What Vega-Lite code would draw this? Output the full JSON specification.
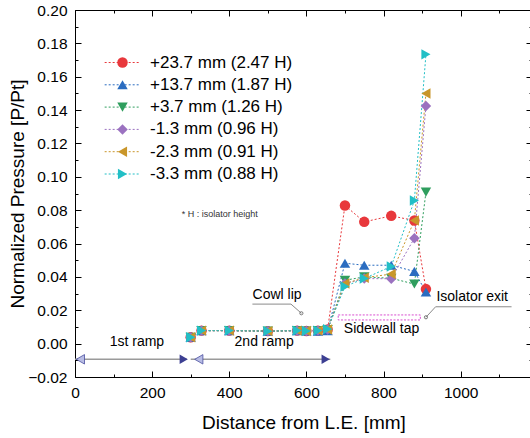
{
  "$schema": "https://vega.github.io/schema/vega-lite/v6.json",
  "width": 457,
  "height": 367,
  "autosize": {"type": "none"},
  "padding": {"left": 75, "top": 10, "right": 0, "bottom": 61},
  "background": "white",
  "config": {
    "view": {"stroke": null},
    "font": "Liberation Sans",
    "axis": {
      "domainColor": "black", "tickColor": "black", "labelColor": "black", "titleColor": "black",
      "labelFont": "Liberation Sans", "titleFont": "Liberation Sans",
      "labelFontSize": 15.5, "titleFontSize": 19, "titleFontWeight": "normal",
      "grid": false, "domainWidth": 1, "tickWidth": 1, "labelFlush": false, "labelOverlap": false
    },
    "text": {"font": "Liberation Sans"}
  },
  "datasets": {
    "series": [
      {"s": "+23.7 mm (2.47 H)", "x": 300, "y": 0.0038},
      {"s": "+23.7 mm (2.47 H)", "x": 328, "y": 0.0078},
      {"s": "+23.7 mm (2.47 H)", "x": 400, "y": 0.0078},
      {"s": "+23.7 mm (2.47 H)", "x": 500, "y": 0.0075},
      {"s": "+23.7 mm (2.47 H)", "x": 576, "y": 0.0078},
      {"s": "+23.7 mm (2.47 H)", "x": 600, "y": 0.0076},
      {"s": "+23.7 mm (2.47 H)", "x": 630, "y": 0.0078},
      {"s": "+23.7 mm (2.47 H)", "x": 655, "y": 0.0085},
      {"s": "+23.7 mm (2.47 H)", "x": 700, "y": 0.0828},
      {"s": "+23.7 mm (2.47 H)", "x": 750, "y": 0.073},
      {"s": "+23.7 mm (2.47 H)", "x": 820, "y": 0.0766},
      {"s": "+23.7 mm (2.47 H)", "x": 880, "y": 0.0738},
      {"s": "+23.7 mm (2.47 H)", "x": 910, "y": 0.0327},
      {"s": "+13.7 mm (1.87 H)", "x": 300, "y": 0.0038},
      {"s": "+13.7 mm (1.87 H)", "x": 328, "y": 0.0078},
      {"s": "+13.7 mm (1.87 H)", "x": 400, "y": 0.0078},
      {"s": "+13.7 mm (1.87 H)", "x": 500, "y": 0.0075},
      {"s": "+13.7 mm (1.87 H)", "x": 576, "y": 0.0078},
      {"s": "+13.7 mm (1.87 H)", "x": 600, "y": 0.0076},
      {"s": "+13.7 mm (1.87 H)", "x": 630, "y": 0.0075},
      {"s": "+13.7 mm (1.87 H)", "x": 655, "y": 0.0078},
      {"s": "+13.7 mm (1.87 H)", "x": 700, "y": 0.0482},
      {"s": "+13.7 mm (1.87 H)", "x": 750, "y": 0.047},
      {"s": "+13.7 mm (1.87 H)", "x": 820, "y": 0.047},
      {"s": "+13.7 mm (1.87 H)", "x": 880, "y": 0.0433},
      {"s": "+13.7 mm (1.87 H)", "x": 910, "y": 0.031},
      {"s": "+3.7 mm (1.26 H)", "x": 300, "y": 0.0038},
      {"s": "+3.7 mm (1.26 H)", "x": 328, "y": 0.0078},
      {"s": "+3.7 mm (1.26 H)", "x": 400, "y": 0.0078},
      {"s": "+3.7 mm (1.26 H)", "x": 500, "y": 0.0075},
      {"s": "+3.7 mm (1.26 H)", "x": 576, "y": 0.0078},
      {"s": "+3.7 mm (1.26 H)", "x": 600, "y": 0.0076},
      {"s": "+3.7 mm (1.26 H)", "x": 630, "y": 0.0078},
      {"s": "+3.7 mm (1.26 H)", "x": 655, "y": 0.0085},
      {"s": "+3.7 mm (1.26 H)", "x": 700, "y": 0.038},
      {"s": "+3.7 mm (1.26 H)", "x": 750, "y": 0.04},
      {"s": "+3.7 mm (1.26 H)", "x": 820, "y": 0.0392},
      {"s": "+3.7 mm (1.26 H)", "x": 880, "y": 0.0357},
      {"s": "+3.7 mm (1.26 H)", "x": 910, "y": 0.0908},
      {"s": "-1.3 mm (0.96 H)", "x": 300, "y": 0.0038},
      {"s": "-1.3 mm (0.96 H)", "x": 328, "y": 0.0078},
      {"s": "-1.3 mm (0.96 H)", "x": 400, "y": 0.0078},
      {"s": "-1.3 mm (0.96 H)", "x": 500, "y": 0.0075},
      {"s": "-1.3 mm (0.96 H)", "x": 576, "y": 0.0078},
      {"s": "-1.3 mm (0.96 H)", "x": 600, "y": 0.0076},
      {"s": "-1.3 mm (0.96 H)", "x": 630, "y": 0.0078},
      {"s": "-1.3 mm (0.96 H)", "x": 655, "y": 0.0085},
      {"s": "-1.3 mm (0.96 H)", "x": 700, "y": 0.036},
      {"s": "-1.3 mm (0.96 H)", "x": 750, "y": 0.039},
      {"s": "-1.3 mm (0.96 H)", "x": 820, "y": 0.0389},
      {"s": "-1.3 mm (0.96 H)", "x": 880, "y": 0.0632},
      {"s": "-1.3 mm (0.96 H)", "x": 910, "y": 0.1425},
      {"s": "-2.3 mm (0.91 H)", "x": 300, "y": 0.0038},
      {"s": "-2.3 mm (0.91 H)", "x": 328, "y": 0.0078},
      {"s": "-2.3 mm (0.91 H)", "x": 400, "y": 0.0078},
      {"s": "-2.3 mm (0.91 H)", "x": 500, "y": 0.0075},
      {"s": "-2.3 mm (0.91 H)", "x": 576, "y": 0.0078},
      {"s": "-2.3 mm (0.91 H)", "x": 600, "y": 0.0076},
      {"s": "-2.3 mm (0.91 H)", "x": 630, "y": 0.0078},
      {"s": "-2.3 mm (0.91 H)", "x": 655, "y": 0.0085},
      {"s": "-2.3 mm (0.91 H)", "x": 700, "y": 0.036},
      {"s": "-2.3 mm (0.91 H)", "x": 750, "y": 0.0395},
      {"s": "-2.3 mm (0.91 H)", "x": 820, "y": 0.0417},
      {"s": "-2.3 mm (0.91 H)", "x": 880, "y": 0.0738},
      {"s": "-2.3 mm (0.91 H)", "x": 910, "y": 0.15},
      {"s": "-3.3 mm (0.88 H)", "x": 300, "y": 0.0038},
      {"s": "-3.3 mm (0.88 H)", "x": 328, "y": 0.0078},
      {"s": "-3.3 mm (0.88 H)", "x": 400, "y": 0.0078},
      {"s": "-3.3 mm (0.88 H)", "x": 500, "y": 0.0075},
      {"s": "-3.3 mm (0.88 H)", "x": 576, "y": 0.0078},
      {"s": "-3.3 mm (0.88 H)", "x": 600, "y": 0.0076},
      {"s": "-3.3 mm (0.88 H)", "x": 630, "y": 0.0078},
      {"s": "-3.3 mm (0.88 H)", "x": 655, "y": 0.0087},
      {"s": "-3.3 mm (0.88 H)", "x": 700, "y": 0.0343},
      {"s": "-3.3 mm (0.88 H)", "x": 750, "y": 0.039},
      {"s": "-3.3 mm (0.88 H)", "x": 820, "y": 0.0463},
      {"s": "-3.3 mm (0.88 H)", "x": 880, "y": 0.0858},
      {"s": "-3.3 mm (0.88 H)", "x": 910, "y": 0.1734}
    ],
    "one": [{}]
  },
  "layer": [
    {
      "data": {"name": "one"},
      "mark": {"type": "rule", "color": "#9a9a9a", "strokeWidth": 1.5},
      "encoding": {
        "x": {"datum": 0, "type": "quantitative", "scale": {"domain": [0, 1185], "nice": false}, "axis": null},
        "x2": {"datum": 290},
        "y": {"datum": -0.0094, "type": "quantitative", "scale": {"domain": [-0.02, 0.2], "nice": false}, "axis": null}
      }
    },
    {
      "data": {"name": "one"},
      "mark": {"type": "rule", "color": "#9a9a9a", "strokeWidth": 1.5},
      "encoding": {
        "x": {"datum": 300, "type": "quantitative", "axis": null},
        "x2": {"datum": 662},
        "y": {"datum": -0.0094, "type": "quantitative", "axis": null}
      }
    },
    {
      "data": {"name": "one"},
      "mark": {"type": "point", "shape": "triangle-left", "filled": true, "fill": "#b8bce4", "stroke": "#4a4f9f", "strokeWidth": 0.8, "size": 90, "opacity": 1},
      "encoding": {
        "x": {"datum": 14, "type": "quantitative", "axis": null},
        "y": {"datum": -0.0094, "type": "quantitative", "axis": null}
      }
    },
    {
      "data": {"name": "one"},
      "mark": {"type": "point", "shape": "triangle-left", "filled": true, "fill": "#b8bce4", "stroke": "#4a4f9f", "strokeWidth": 0.8, "size": 90, "opacity": 1},
      "encoding": {
        "x": {"datum": 321, "type": "quantitative", "axis": null},
        "y": {"datum": -0.0094, "type": "quantitative", "axis": null}
      }
    },
    {
      "data": {"name": "one"},
      "mark": {"type": "point", "shape": "triangle-right", "filled": true, "fill": "#3c3f92", "size": 90, "opacity": 1},
      "encoding": {
        "x": {"datum": 282, "type": "quantitative", "axis": null},
        "y": {"datum": -0.0094, "type": "quantitative", "axis": null}
      }
    },
    {
      "data": {"name": "one"},
      "mark": {"type": "point", "shape": "triangle-right", "filled": true, "fill": "#3c3f92", "size": 90, "opacity": 1},
      "encoding": {
        "x": {"datum": 650, "type": "quantitative", "axis": null},
        "y": {"datum": -0.0094, "type": "quantitative", "axis": null}
      }
    },
    {
      "data": {"name": "one"},
      "mark": {"type": "text", "text": "1st ramp", "fontSize": 14, "color": "black", "align": "center", "baseline": "middle"},
      "encoding": {
        "x": {"datum": 160.5, "type": "quantitative", "axis": null},
        "y": {"datum": 0.0011, "type": "quantitative", "axis": null}
      }
    },
    {
      "data": {"name": "one"},
      "mark": {"type": "text", "text": "2nd ramp", "fontSize": 14, "color": "black", "align": "center", "baseline": "middle"},
      "encoding": {
        "x": {"datum": 490.5, "type": "quantitative", "axis": null},
        "y": {"datum": 0.0011, "type": "quantitative", "axis": null}
      }
    },
    {
      "data": {"name": "one"},
      "mark": {"type": "text", "text": "Cowl lip", "fontSize": 14, "color": "black", "align": "center", "baseline": "middle"},
      "encoding": {
        "x": {"datum": 524, "type": "quantitative", "axis": null},
        "y": {"datum": 0.0291, "type": "quantitative", "axis": null}
      }
    },
    {
      "data": {"name": "one"},
      "mark": {"type": "text", "text": "Isolator exit", "fontSize": 14, "color": "black", "align": "center", "baseline": "middle"},
      "encoding": {
        "x": {"datum": 1030, "type": "quantitative", "axis": null},
        "y": {"datum": 0.0281, "type": "quantitative", "axis": null}
      }
    },
    {
      "data": {"name": "one"},
      "mark": {"type": "text", "text": "Sidewall tap", "fontSize": 14, "color": "black", "align": "center", "baseline": "middle"},
      "encoding": {
        "x": {"datum": 795, "type": "quantitative", "axis": null},
        "y": {"datum": 0.0086, "type": "quantitative", "axis": null}
      }
    },
    {
      "data": {"name": "one"},
      "mark": {"type": "text", "text": "* H : isolator height", "fontSize": 9, "color": "#333333", "align": "left", "baseline": "middle"},
      "encoding": {
        "x": {"datum": 277, "type": "quantitative", "axis": null},
        "y": {"datum": 0.0777, "type": "quantitative", "axis": null}
      }
    },
    {
      "data": {"name": "one"},
      "mark": {"type": "rule", "color": "#8a8a8a", "strokeWidth": 1},
      "encoding": {
        "x": {"datum": 460, "type": "quantitative", "axis": null},
        "x2": {"datum": 560},
        "y": {"datum": 0.0237, "type": "quantitative", "axis": null},
        "y2": {"datum": 0.0237}
      }
    },
    {
      "data": {"name": "one"},
      "mark": {"type": "rule", "color": "#8a8a8a", "strokeWidth": 1},
      "encoding": {
        "x": {"datum": 560, "type": "quantitative", "axis": null},
        "x2": {"datum": 587},
        "y": {"datum": 0.0237, "type": "quantitative", "axis": null},
        "y2": {"datum": 0.0182}
      }
    },
    {
      "data": {"name": "one"},
      "mark": {"type": "point", "shape": "circle", "filled": false, "stroke": "#777777", "strokeWidth": 1, "size": 10, "opacity": 1},
      "encoding": {
        "x": {"datum": 587, "type": "quantitative", "axis": null},
        "y": {"datum": 0.0182, "type": "quantitative", "axis": null}
      }
    },
    {
      "data": {"name": "one"},
      "mark": {"type": "rule", "color": "#8a8a8a", "strokeWidth": 1},
      "encoding": {
        "x": {"datum": 935, "type": "quantitative", "axis": null},
        "x2": {"datum": 1132},
        "y": {"datum": 0.0221, "type": "quantitative", "axis": null},
        "y2": {"datum": 0.0221}
      }
    },
    {
      "data": {"name": "one"},
      "mark": {"type": "rule", "color": "#8a8a8a", "strokeWidth": 1},
      "encoding": {
        "x": {"datum": 935, "type": "quantitative", "axis": null},
        "x2": {"datum": 910},
        "y": {"datum": 0.0221, "type": "quantitative", "axis": null},
        "y2": {"datum": 0.0158}
      }
    },
    {
      "data": {"name": "one"},
      "mark": {"type": "point", "shape": "circle", "filled": false, "stroke": "#777777", "strokeWidth": 1, "size": 10, "opacity": 1},
      "encoding": {
        "x": {"datum": 910, "type": "quantitative", "axis": null},
        "y": {"datum": 0.0158, "type": "quantitative", "axis": null}
      }
    },
    {
      "data": {"name": "one"},
      "mark": {"type": "rect", "fill": null, "fillOpacity": 0, "stroke": "#d94fd0", "strokeWidth": 1, "strokeDash": [2, 1.5]},
      "encoding": {
        "x": {"datum": 682.5, "type": "quantitative", "axis": null},
        "x2": {"datum": 895.5},
        "y": {"datum": 0.0142, "type": "quantitative", "axis": null},
        "y2": {"datum": 0.0172}
      }
    },
    {
      "data": {"name": "series"},
      "mark": {"type": "line", "strokeWidth": 1, "strokeDash": [2, 2]},
      "encoding": {
        "x": {
          "field": "x", "type": "quantitative",
          "axis": {
            "orient": "top", "values": [0, 100, 200, 300, 400, 500, 600, 700, 800, 900, 1000, 1100],
            "labels": false, "title": null,
            "tickSize": {"condition": {"test": "datum.value % 200 == 0", "value": -6}, "value": -3}
          }
        },
        "y": {
          "field": "y", "type": "quantitative",
          "axis": {
            "orient": "right", "values": [-0.02, -0.01, 0, 0.01, 0.02, 0.03, 0.04, 0.05, 0.06, 0.07, 0.08, 0.09, 0.1, 0.11, 0.12, 0.13, 0.14, 0.15, 0.16, 0.17, 0.18, 0.19, 0.2],
            "labels": false, "title": null,
            "tickSize": {"condition": {"test": "abs(round(datum.value*100)) % 2 == 0", "value": -6}, "value": -3}
          }
        },
        "stroke": {
          "field": "s", "type": "nominal",
          "scale": {
            "domain": ["+23.7 mm (2.47 H)", "+13.7 mm (1.87 H)", "+3.7 mm (1.26 H)", "-1.3 mm (0.96 H)", "-2.3 mm (0.91 H)", "-3.3 mm (0.88 H)", "(none)"],
            "range": ["#e8383c", "#2a6cc0", "#2f9e5e", "#9b72c0", "#c9962a", "#22bfc6", "#ffffff"]
          },
          "legend": {
            "orient": "none", "legendX": 39, "legendY": 44, "title": null, "padding": 0,
            "values": ["+23.7 mm (2.47 H)", "+13.7 mm (1.87 H)", "+3.7 mm (1.26 H)", "-1.3 mm (0.96 H)", "-2.3 mm (0.91 H)", "-3.3 mm (0.88 H)"],
            "labelFontSize": 17, "labelFont": "Liberation Sans", "labelOpacity": 0, "labelOffset": 19, "labelLimit": 300,
            "rowPadding": 4.3, "symbolSize": 110, "symbolType": "M-3.4,0H3.4",
            "symbolStrokeWidth": 1, "symbolDash": [2, 2], "symbolOpacity": 1
          }
        }
      }
    },
    {
      "data": {"name": "series"},
      "mark": {"type": "point", "filled": true, "size": 110, "strokeWidth": 0, "opacity": 1},
      "encoding": {
        "x": {
          "field": "x", "type": "quantitative",
          "axis": {
            "orient": "bottom", "values": [0, 100, 200, 300, 400, 500, 600, 700, 800, 900, 1000, 1100],
            "format": "d", "labelExpr": "datum.value % 200 == 0 ? datum.label : ''",
            "title": "Distance from L.E. [mm]", "labelPadding": 14, "titlePadding": 10,
            "tickSize": {"condition": {"test": "datum.value % 200 == 0", "value": -6}, "value": -3}
          }
        },
        "y": {
          "field": "y", "type": "quantitative",
          "axis": {
            "orient": "left", "values": [-0.02, -0.01, 0, 0.01, 0.02, 0.03, 0.04, 0.05, 0.06, 0.07, 0.08, 0.09, 0.1, 0.11, 0.12, 0.13, 0.14, 0.15, 0.16, 0.17, 0.18, 0.19, 0.2],
            "format": ".2f", "labelExpr": "abs(round(datum.value*100)) % 2 == 0 ? datum.label : ''",
            "title": "Normalized Pressure [P/Pt]", "labelPadding": 14, "titlePadding": 0,
            "tickSize": {"condition": {"test": "abs(round(datum.value*100)) % 2 == 0", "value": -6}, "value": -3}
          }
        },
        "fill": {
          "field": "s", "type": "nominal",
          "scale": {
            "domain": ["+23.7 mm (2.47 H)", "+13.7 mm (1.87 H)", "+3.7 mm (1.26 H)", "-1.3 mm (0.96 H)", "-2.3 mm (0.91 H)", "-3.3 mm (0.88 H)"],
            "range": ["#e8383c", "#2a6cc0", "#2f9e5e", "#9b72c0", "#c9962a", "#22bfc6"]
          },
          "legend": {
            "orient": "none", "legendX": 39, "legendY": 44, "title": null, "padding": 0,
            "labelFontSize": 17, "labelFont": "Liberation Sans", "labelColor": "black", "labelOffset": 19, "labelLimit": 300,
            "rowPadding": 4.3, "symbolSize": 110, "symbolStrokeWidth": 0, "symbolOpacity": 1
          }
        },
        "shape": {
          "field": "s", "type": "nominal",
          "scale": {
            "domain": ["+23.7 mm (2.47 H)", "+13.7 mm (1.87 H)", "+3.7 mm (1.26 H)", "-1.3 mm (0.96 H)", "-2.3 mm (0.91 H)", "-3.3 mm (0.88 H)"],
            "range": ["circle", "triangle-up", "triangle-down", "diamond", "triangle-left", "triangle-right"]
          },
          "legend": {
            "orient": "none", "legendX": 39, "legendY": 44, "title": null, "padding": 0,
            "labelFontSize": 17, "labelFont": "Liberation Sans", "labelColor": "black", "labelOffset": 19, "labelLimit": 300,
            "rowPadding": 4.3, "symbolSize": 110, "symbolStrokeWidth": 0, "symbolOpacity": 1
          }
        }
      }
    }
  ],
  "resolve": {"axis": {"x": "independent", "y": "independent"}}
}
